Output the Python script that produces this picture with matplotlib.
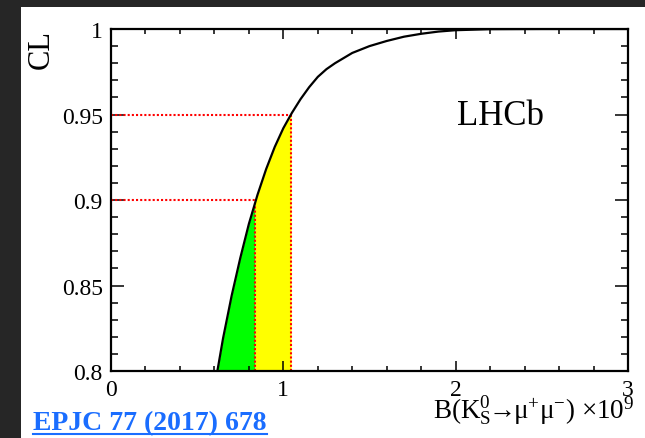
import matplotlib
matplotlib.use("Agg")
import matplotlib.pyplot as plt
from matplotlib.patches import Rectangle
from matplotlib.lines import Line2D
import numpy as np

plt.rcParams['font.family'] = ['Liberation Serif', 'DejaVu Serif']
plt.rcParams['mathtext.fontset'] = 'custom'
plt.rcParams['mathtext.rm'] = 'Liberation Serif'
plt.rcParams['mathtext.it'] = 'Liberation Serif:italic'

# CL curve (BR in units of 1e-9)
br = [0.60, 0.65, 0.70, 0.75, 0.80, 0.85, 0.90, 0.95, 1.00, 1.05, 1.10,
      1.15, 1.20, 1.25, 1.30, 1.40, 1.50, 1.60, 1.70, 1.80, 1.90, 2.00, 2.20, 2.50, 3.00]
cl = [0.790, 0.819, 0.844, 0.866, 0.886, 0.903, 0.918, 0.931, 0.942, 0.951, 0.959,
      0.966, 0.972, 0.9765, 0.980, 0.986, 0.990, 0.993, 0.9955, 0.9972, 0.9985, 0.9993,
      0.9999, 1.0, 1.0]

lim90 = 0.836
lim95 = 1.045
xticks = [0, 1, 2, 3]
yticks = [0.8, 0.85, 0.9, 0.95, 1.0]
yticklabels = ['0.8', '0.85', '0.9', '0.95', '1']

fig = plt.figure(figsize=(6.45, 4.39), dpi=100)
fig.patch.set_facecolor('white')
# dark slide border on the left and top
fig.add_artist(Rectangle((0, 0), 21 / 645, 1, transform=fig.transFigure,
                         facecolor='#262626', edgecolor='none', zorder=0))
fig.add_artist(Rectangle((0, 1 - 8 / 439), 1, 8 / 439, transform=fig.transFigure,
                         facecolor='#262626', edgecolor='none', zorder=0))

ax = fig.add_axes([111 / 645, 1 - 372 / 439, 517 / 645, 342 / 439])
ax.set_facecolor('white')

x = np.array(br)
y = np.array(cl)
xg = np.linspace(br[0], lim90, 40)
xs = np.linspace(lim90, lim95, 40)
ax.fill_between(xg, 0.8, np.interp(xg, x, y), color='#00ff00', lw=0, zorder=1)
ax.fill_between(xs, 0.8, np.interp(xs, x, y), color='#ffff00', lw=0, zorder=1)

c90 = np.interp(lim90, x, y)
c95 = np.interp(lim95, x, y)
dot = dict(color='red', lw=1.5, ls=(0, (1, 1)), zorder=2)
ax.plot([0, lim90], [0.9, 0.9], **dot)
ax.plot([0, lim95], [0.95, 0.95], **dot)
ax.plot([lim90, lim90], [0.8, c90], **dot)
ax.plot([lim95, lim95], [0.8, c95], **dot)

ax.plot(x, y, color='black', lw=1.6, zorder=3)

ax.set_xlim(0, 3)
ax.set_ylim(0.8, 1.0)
ax.set_xticks(xticks)
ax.set_xticks(np.arange(0, 3.01, 0.2), minor=True)
ax.set_yticks(yticks)
ax.set_yticklabels(yticklabels)
ax.set_yticks(np.arange(0.8, 1.001, 0.01), minor=True)
ax.tick_params(axis='both', which='both', direction='in', top=True, right=True,
               labelsize=17, width=1.1)
ax.tick_params(axis='x', which='major', length=7.2, pad=6)
ax.tick_params(axis='x', which='minor', length=3.6)
ax.tick_params(axis='y', which='major', length=9.4, pad=6)
ax.tick_params(axis='y', which='minor', length=5)
for s in ax.spines.values():
    s.set_linewidth(1.6)

fig.text(41 / 645, 1 - 30 / 439, 'CL', rotation=90, ha='center', va='top', fontsize=22)
ax.text(0.669, 0.746, 'LHCb', transform=ax.transAxes, fontsize=25, ha='left', va='center')

fig.text(635 / 645, 1 - 419 / 439,
         r'B(K$_{\mathrm{S}}^{0}\!\!\rightarrow\!\!\mathrm{μ}^{+}\mathrm{μ}^{-}$) ×10$^{9}$',
         ha='right', va='baseline', fontsize=19.5)

ref = fig.text(33 / 645, 1 - 430 / 439, 'EPJC 77 (2017) 678', color='#1a6dff',
               fontsize=20, fontweight='bold', ha='left', va='baseline')
fig.canvas.draw()
bb = ref.get_window_extent()
fig.add_artist(Line2D([bb.x0 / fig.bbox.width, bb.x1 / fig.bbox.width],
                      [1 - 435 / 439, 1 - 435 / 439],
                      transform=fig.transFigure, color='#1a6dff', lw=1.5))

fig.savefig('out.png', dpi=100, facecolor=fig.get_facecolor())
